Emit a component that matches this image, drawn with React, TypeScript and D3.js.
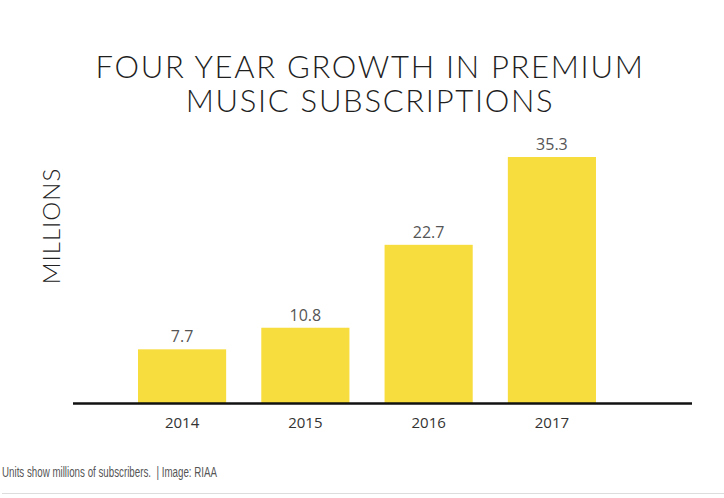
import React from "react";
import * as d3 from "d3";

const years = ["2014", "2015", "2016", "2017"];
const subscribers = [7.7, 10.8, 22.7, 35.3];
const valueLabels = ["7.7", "10.8", "22.7", "35.3"];
const titleLines = ["FOUR YEAR GROWTH IN PREMIUM", "MUSIC SUBSCRIPTIONS"];

export default function App() {
  const W = 724, H = 498;
  const baseline = 403;
  const x = d3.scaleBand<string>().domain(years).range([138, 596]).paddingInner(0.285).paddingOuter(0);
  const y = d3.scaleLinear().domain([0, 35.3]).range([baseline, 157]);
  const titleFont = "Lato, 'Open Sans', sans-serif";
  return (
    <svg width={W} height={H} style={{ position: "absolute", left: 0, top: 0, background: "#fff" }}>
      {titleLines.map((t, i) => (
        <text key={t} x={370} y={78 + i * 34} textAnchor="middle" fontFamily={titleFont} fontWeight={300}
          fontSize={31} fill="#1f1f1f" letterSpacing={1.7}>{t}</text>
      ))}
      <text transform={`translate(60,226) rotate(-90)`} textAnchor="middle" fontFamily={titleFont} fontWeight={300}
        fontSize={24} fill="#222" letterSpacing={1}>MILLIONS</text>
      {years.map((yr, i) => (
        <g key={yr}>
          <rect x={x(yr)} y={y(subscribers[i])} width={x.bandwidth()} height={baseline - y(subscribers[i])} fill="#F8DD3F" />
          <text x={x(yr)! + x.bandwidth() / 2} y={y(subscribers[i]) - 7} textAnchor="middle"
            fontFamily="'Open Sans', sans-serif" fontSize={16} fill="#555">{valueLabels[i]}</text>
          <text x={x(yr)! + x.bandwidth() / 2} y={428} textAnchor="middle"
            fontFamily="'Open Sans', sans-serif" fontWeight={500} fontSize={15} fill="#333">{yr}</text>
        </g>
      ))}
      <line x1={73} x2={692} y1={baseline + 0.5} y2={baseline + 0.5} stroke="#111" strokeWidth={2.5} />
      <text x={2} y={477} fontFamily="'Liberation Sans Narrow', 'Arial Narrow', 'Liberation Sans', sans-serif" fontSize={14}
        fill="#555" textLength={215} lengthAdjust="spacingAndGlyphs" style={{ whiteSpace: "pre" }}>
        {"Units show millions of subscribers.  | Image: RIAA"}
      </text>
      <line x1={2} x2={724} y1={493.5} y2={493.5} stroke="#ddd" strokeWidth={1} />
    </svg>
  );
}
